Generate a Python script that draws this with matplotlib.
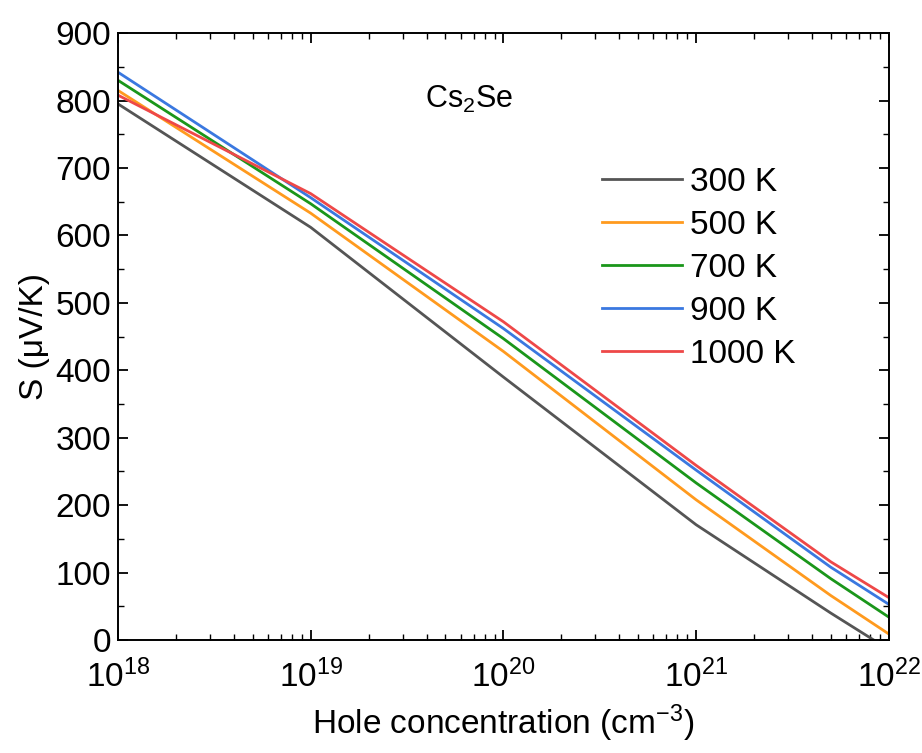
import numpy as np
import matplotlib
matplotlib.use('Agg')
import matplotlib.pyplot as plt
from matplotlib.ticker import MultipleLocator, LogLocator

plt.rcParams['font.family'] = ['Liberation Sans', 'DejaVu Sans']
plt.rcParams['mathtext.fontset'] = 'custom'
plt.rcParams['mathtext.rm'] = 'Liberation Sans'
plt.rcParams['mathtext.it'] = 'Liberation Sans:italic'

# Concentración de huecos (cm^-3)
conc = [1e18, 1e19, 1e20, 1e21, 5e21, 1e22]

# Coeficiente Seebeck (uV/K) para cada temperatura
s_300 = [795, 612, 390, 171, 40, -14]
s_500 = [815, 633, 428, 208, 66, 9]
s_700 = [830, 647, 447, 233, 91, 34]
s_900 = [842, 656, 462, 252, 108, 53]
s_1000 = [808, 662, 472, 259, 116, 63]

series = [s_300, s_500, s_700, s_900, s_1000]
labels = ['300 K', '500 K', '700 K', '900 K', '1000 K']
colores = ['#555555', '#ff9a1e', '#1a961a', '#3a78e0', '#ee4848']

fig = plt.figure(figsize=(9.22, 7.53), dpi=100)
ax = fig.add_axes([0.128, 0.15, 0.836, 0.806])

for s, lab, c in zip(series, labels, colores):
    ax.plot(conc, s, color=c, lw=2.0, label=lab)

ax.set_xscale('log')
ax.set_xlim(1e18, 1e22)
ax.set_ylim(0, 900)
ax.yaxis.set_major_locator(MultipleLocator(100))
ax.yaxis.set_minor_locator(MultipleLocator(50))
ax.xaxis.set_major_locator(LogLocator(base=10, numticks=10))
ax.xaxis.set_minor_locator(LogLocator(base=10, subs=np.arange(2, 10), numticks=20))

ax.tick_params(which='both', direction='in', top=True, right=True, labelsize=24)
ax.tick_params(which='major', length=7, width=1.3)
ax.tick_params(which='minor', length=4, width=1.0)
ax.tick_params(axis='x', which='major', pad=14)
ax.tick_params(axis='y', which='major', pad=5)
for sp in ax.spines.values():
    sp.set_linewidth(1.4)

ax.set_xlabel('Hole concentration (cm$^{-3}$)', fontsize=24, labelpad=6)
ax.set_ylabel('S (μV/K)', fontsize=24, labelpad=4)

ax.text(0.455, 0.89, 'Cs$_2$Se', transform=ax.transAxes, fontsize=22,
        ha='center', va='center')

ax.legend(loc='upper left', bbox_to_anchor=(0.628, 0.78), frameon=False,
          fontsize=24, handlelength=2.4, handletextpad=0.25, labelspacing=0.36,
          borderaxespad=0, borderpad=0)

plt.savefig('out.png', dpi=100)
